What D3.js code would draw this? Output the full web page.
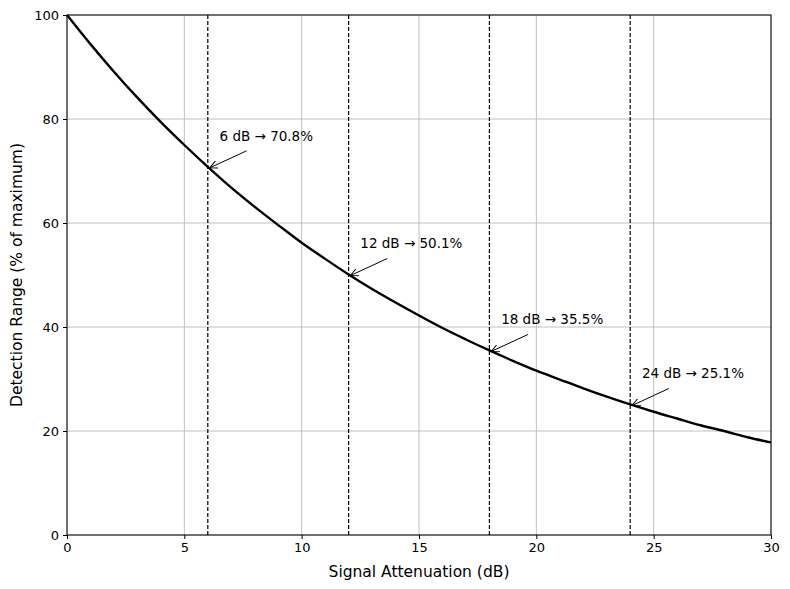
<!DOCTYPE html>
<html><head><meta charset="utf-8">
<script src="https://cdn.jsdelivr.net/npm/d3@7"></script>
<style>body{margin:0;background:#fff;font-family:"DejaVu Sans",sans-serif}</style>
</head><body><svg id="c" width="790" height="589"></svg>
<script>
const attenuation = [0,1,2,3,4,5,6,7,8,9,10,11,12,13,14,15,16,17,18,19,20,21,22,23,24,25,26,27,28,29,30];
const rangePct = [100,94.4,89.1,84.1,79.4,75.0,70.8,66.8,63.1,59.6,56.2,53.1,50.1,47.3,44.7,42.2,39.8,37.6,35.5,33.5,31.6,29.9,28.2,26.6,25.1,23.7,22.4,21.1,20.0,18.8,17.8];
const markDb = [6,12,18,24];
const markPct = [70.8,50.1,35.5,25.1];
const markLabels = ["6 dB → 70.8%","12 dB → 50.1%","18 dB → 35.5%","24 dB → 25.1%"];
const xTicks = [0,5,10,15,20,25,30];
const yTicks = [0,20,40,60,80,100];

const svg = d3.select("#c");
const L=67,R=771,T=15,B=535;
const x = d3.scaleLinear().domain([0,30]).range([L,R]);
const y = d3.scaleLinear().domain([0,100]).range([B,T]);
const defs = svg.append("defs");
defs.append("marker").attr("id","ah").attr("viewBox","0 0 10 10").attr("refX",10).attr("refY",5)
  .attr("markerWidth",8).attr("markerHeight",8).attr("orient","auto-start-reverse").attr("markerUnits","userSpaceOnUse")
  .append("path").attr("d","M0,0 L10,5 L0,10").attr("fill","none").attr("stroke","#000").attr("stroke-width",1.2);

svg.append("g").selectAll("line").data(xTicks).join("line")
  .attr("x1",d=>x(d)).attr("x2",d=>x(d)).attr("y1",T).attr("y2",B).attr("stroke","#b0b0b0").attr("stroke-width",0.8);
svg.append("g").selectAll("line").data(yTicks).join("line")
  .attr("y1",d=>y(d)).attr("y2",d=>y(d)).attr("x1",L).attr("x2",R).attr("stroke","#b0b0b0").attr("stroke-width",0.8);

svg.append("g").selectAll("line").data(markDb).join("line")
  .attr("x1",d=>x(d)).attr("x2",d=>x(d)).attr("y1",T).attr("y2",B)
  .attr("stroke","#000").attr("stroke-width",1.2).attr("stroke-dasharray","4,2");

svg.append("path").datum(attenuation.map((a,i)=>[a,rangePct[i]]))
  .attr("d",d3.line().x(d=>x(d[0])).y(d=>y(d[1])).curve(d3.curveMonotoneX))
  .attr("fill","none").attr("stroke","#000").attr("stroke-width",2.4);

markDb.forEach((d,i)=>{
  const tx=x(d+0.5), ty=y(markPct[i]+5);
  svg.append("line").attr("x1",tx+27).attr("y1",ty+10).attr("x2",x(d)+2).attr("y2",y(markPct[i])+1)
    .attr("stroke","#000").attr("stroke-width",1).attr("marker-end","url(#ah)");
  svg.append("text").attr("x",tx).attr("y",ty).attr("font-size",13.5).text(markLabels[i]);
});

svg.append("rect").attr("x",L).attr("y",T).attr("width",R-L).attr("height",B-T).attr("fill","none").attr("stroke","#000").attr("stroke-width",1);

const xa = svg.append("g").attr("transform",`translate(0,${B})`).call(d3.axisBottom(x).tickValues(xTicks).tickSize(4).tickPadding(4));
const ya = svg.append("g").attr("transform",`translate(${L},0)`).call(d3.axisLeft(y).tickValues(yTicks).tickSize(4).tickPadding(4));
[xa,ya].forEach(a=>{a.select(".domain").remove();a.selectAll("text").attr("font-size",13).attr("font-family","DejaVu Sans").attr("fill","#000");});

svg.append("text").attr("x",(L+R)/2).attr("y",577).attr("text-anchor","middle").attr("font-size",15.5).text("Signal Attenuation (dB)");
svg.append("text").attr("transform",`translate(22,${(T+B)/2}) rotate(-90)`).attr("text-anchor","middle").attr("font-size",15.5).text("Detection Range (% of maximum)");
</script></body></html>
